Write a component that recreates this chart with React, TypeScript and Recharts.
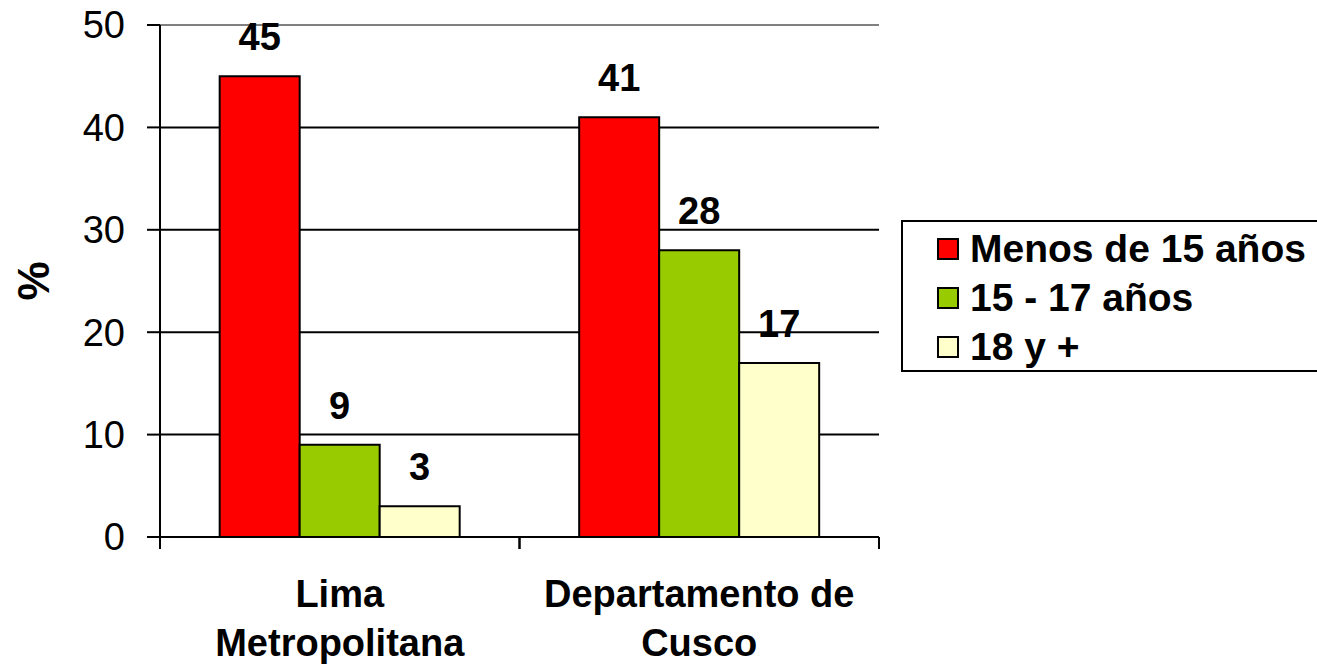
import React from 'react';
import { BarChart, Bar, XAxis, YAxis, CartesianGrid, ReferenceLine, Legend, LabelList } from 'recharts';

// values
const categories = ['Lima\nMetropolitana', 'Departamento de\nCusco'];
const menos15 = [45, 41];
const de15a17 = [9, 28];
const mas18 = [3, 17];
const yTicks = [0, 10, 20, 30, 40, 50];

const series = [
  { key: 'menos15', name: 'Menos de 15 años', color: '#FF0000', values: menos15 },
  { key: 'de15a17', name: '15 - 17 años', color: '#99CC00', values: de15a17 },
  { key: 'mas18', name: '18 y +', color: '#FFFFCC', values: mas18 },
];

const data = categories.map((c, i) => {
  const row: any = { name: c };
  series.forEach(s => { row[s.key] = s.values[i]; });
  return row;
});

const W = 1317;
const H = 664;
const MARGIN = { top: 25, right: 438, bottom: 0, left: 0 };
const Y_W = 160;
const X_H = 127;
const PLOT_W = W - MARGIN.left - MARGIN.right - Y_W;
const BAND = PLOT_W / categories.length;
const FONT = '"Liberation Sans", Arial, sans-serif';

const CategoryTick = (props: any) => {
  const { x, y, payload } = props;
  const lines = String(payload.value).split('\n');
  return (
    <g>
      <line x1={x - BAND / 2} x2={x - BAND / 2} y1={y} y2={y + 12} stroke="#000" strokeWidth={2} />
      <line x1={x + BAND / 2} x2={x + BAND / 2} y1={y} y2={y + 12} stroke="#000" strokeWidth={2} />
      <text x={x} y={y} textAnchor="middle" fontFamily={FONT} fontSize={38} fontWeight="bold" fill="#000">
        {lines.map((l, i) => (
          <tspan key={i} x={x} y={y + 70 + i * 49}>{l}</tspan>
        ))}
      </text>
    </g>
  );
};

const PercentLabel = (props: any) => {
  const vb = props.viewBox || { x: 0, y: 25, width: 160, height: 512 };
  const cx = vb.x + 33;
  const cy = vb.y + vb.height / 2;
  return (
    <text
      x={cx}
      y={cy}
      transform={`rotate(-90 ${cx} ${cy})`}
      textAnchor="middle"
      dominantBaseline="central"
      fontFamily={FONT}
      fontSize={44}
      fontWeight="bold"
      fill="#000"
    >
      %
    </text>
  );
};

const LegendBox = () => (
  <div
    style={{
      boxSizing: 'border-box',
      width: 440,
      height: 152,
      border: '2px solid #000',
      background: '#fff',
      paddingTop: 2,
      paddingLeft: 34,
      fontFamily: FONT,
      fontSize: 39,
      fontWeight: 'bold',
      color: '#000',
    }}
  >
    {series.map(s => (
      <div key={s.key} style={{ height: 49, display: 'flex', alignItems: 'center', whiteSpace: 'nowrap' }}>
        <span
          style={{
            display: 'inline-block',
            boxSizing: 'border-box',
            width: 22,
            height: 22,
            background: s.color,
            border: '2px solid #000',
            marginRight: 11,
            flex: 'none',
          }}
        />
        <span>{s.name}</span>
      </div>
    ))}
  </div>
);

export default function App() {
  return (
    <div style={{ position: 'absolute', left: 0, top: 0, width: W, height: H, overflow: 'hidden', background: '#fff' }}>
      <BarChart width={W} height={H} data={data} margin={MARGIN} barCategoryGap="16.6%" barGap={0}>
        <CartesianGrid vertical={false} stroke="#000" strokeWidth={2} />
        <ReferenceLine y={50} stroke="#808080" strokeWidth={2} />
        <XAxis
          dataKey="name"
          height={X_H}
          tickLine={false}
          tickSize={0}
          tickMargin={0}
          axisLine={{ stroke: '#000', strokeWidth: 2 }}
          tick={<CategoryTick />}
          interval={0}
        />
        <YAxis
          domain={[0, 50]}
          ticks={yTicks}
          width={Y_W}
          tickSize={13}
          tickMargin={22}
          axisLine={{ stroke: '#000', strokeWidth: 2 }}
          tickLine={{ stroke: '#000', strokeWidth: 2 }}
          tick={{ fontFamily: FONT, fontSize: 38, fill: '#000' }}
          label={{ content: PercentLabel }}
        />
        <YAxis
          yAxisId="frame"
          orientation="right"
          domain={[0, 50]}
          width={0}
          tick={false}
          tickLine={false}
          axisLine={{ stroke: '#808080', strokeWidth: 2 }}
        />
        <Legend
          layout="horizontal"
          verticalAlign="middle"
          align="center"
          wrapperStyle={{ left: 901, top: 220, width: 440, height: 152 }}
          content={<LegendBox />}
        />
        {series.map(s => (
          <Bar key={s.key} dataKey={s.key} name={s.name} fill={s.color} stroke="#000" strokeWidth={2} isAnimationActive={false}>
            <LabelList
              dataKey={s.key}
              position="top"
              offset={26}
              style={{ fontFamily: FONT, fontSize: 38, fontWeight: 'bold', fill: '#000' }}
            />
          </Bar>
        ))}
      </BarChart>
    </div>
  );
}
